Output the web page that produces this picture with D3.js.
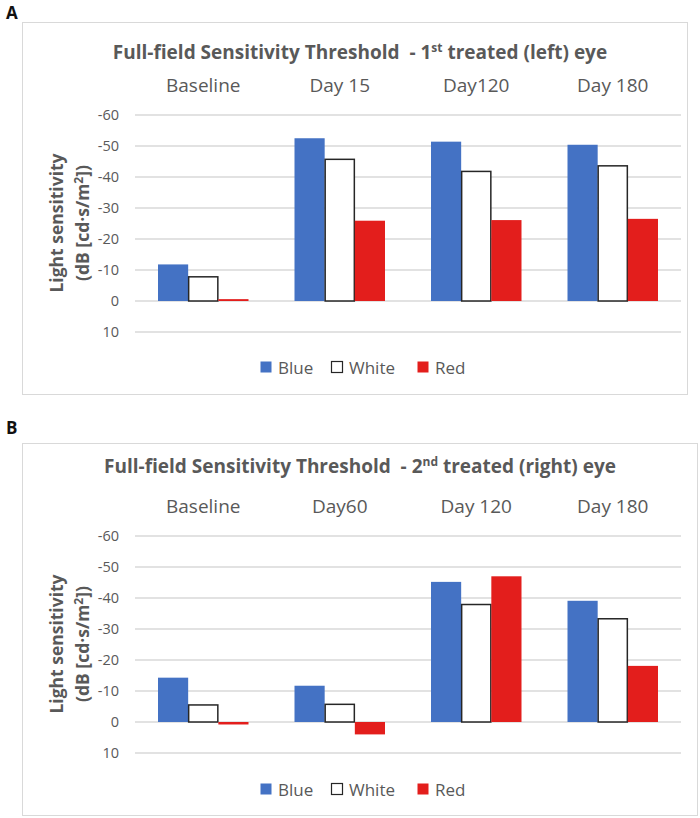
<!DOCTYPE html>
<html>
<head>
<meta charset="utf-8">
<script src="https://cdn.jsdelivr.net/npm/d3@7"></script>
<style>
  body { margin: 0; background: #fff; }
  svg { display: block; }
  text { font-family: "Open Sans", "Noto Sans", sans-serif; white-space: pre; }
</style>
</head>
<body>
<script>
// ---- data ----
const seriesNames = ["Blue", "White", "Red"];
const yTicks = [-60, -50, -40, -30, -20, -10, 0, 10];

const categoriesA = ["Baseline", "Day 15", "Day120", "Day 180"];
const blueA  = [-11.8, -52.5, -51.4, -50.4];
const whiteA = [-7.8, -45.7, -41.8, -43.6];
const redA   = [-0.6, -25.9, -26.1, -26.5];

const categoriesB = ["Baseline", "Day60", "Day 120", "Day 180"];
const blueB  = [-14.3, -11.7, -45.2, -39.1];
const whiteB = [-5.5, -5.7, -37.9, -33.3];
const redB   = [0.8, 4.0, -47.0, -18.1];

const colors = { Blue: "#4472C4", White: "#FFFFFF", Red: "#E31E1C" };
const textGray = "#595959";

const W = 700, H = 818;
const svg = d3.select("body").append("svg").attr("width", W).attr("height", H);

function panel(cfg) {
  const g = svg.append("g");
  // panel letter
  svg.append("text").attr("x", 6).attr("y", cfg.letterY)
    .attr("font-family", "Liberation Sans, Arial, sans-serif")
    .attr("font-weight", "bold").attr("font-size", 17).attr("fill", "#111")
    .text(cfg.letter);
  // box
  g.append("rect").attr("x", 22.5).attr("y", cfg.top + 0.5)
    .attr("width", cfg.right - 22).attr("height", 372)
    .attr("fill", "#fff").attr("stroke", "#D9D9D9").attr("stroke-width", 1);

  const x0 = d3.scaleBand().domain(cfg.categories).range([135, 681]).paddingInner(0.337).paddingOuter(0.337 / 2);
  const x1 = d3.scaleBand().domain(seriesNames).range([0, x0.bandwidth()]);
  const y = d3.scaleLinear().domain([10, -60]).range([cfg.top + 310, cfg.top + 93]);

  // gridlines
  g.append("g").selectAll("line").data(yTicks).join("line")
    .attr("x1", 135).attr("x2", 681)
    .attr("y1", d => y(d)).attr("y2", d => y(d))
    .attr("stroke", "#D9D9D9").attr("stroke-width", 1.3);

  // y axis labels
  const yAxis = d3.axisLeft(y).tickValues(yTicks).tickSize(0).tickPadding(0).tickFormat(d => d3.format("d")(d).replace("−", "-"));
  const ax = g.append("g").attr("transform", "translate(119,0)").call(yAxis);
  ax.select(".domain").remove();
  ax.selectAll("text").attr("font-size", 14.5).attr("fill", textGray)
    .attr("font-family", "Open Sans, sans-serif");

  // y axis title
  const yt = g.append("text").attr("transform", `translate(0,${cfg.top + 201}) rotate(-90)`)
    .attr("text-anchor", "middle").attr("font-weight", "bold").attr("font-size", 17.5).attr("fill", textGray);
  yt.append("tspan").attr("x", 0).attr("y", 63).text("Light sensitivity");
  const t2 = yt.append("tspan").attr("x", 0).attr("y", 89).text("(dB [cd·s/m");
  t2.append("tspan").attr("dy", -6).attr("font-size", 12).text("2");
  t2.append("tspan").attr("dy", 6).text("])");

  // title
  const title = g.append("text").attr("x", 360).attr("y", cfg.top + cfg.titleDy)
    .attr("text-anchor", "middle").attr("font-weight", "bold").attr("font-size", 19).attr("fill", textGray);
  title.append("tspan").text(cfg.titleA);
  title.append("tspan").attr("dy", -7).attr("font-size", 12).text(cfg.sup);
  title.append("tspan").attr("dy", 7).text(cfg.titleB);

  // category labels at top
  g.append("g").selectAll("text").data(cfg.categories).join("text")
    .attr("x", d => x0(d) + x0.bandwidth() / 2).attr("y", cfg.top + 70)
    .attr("text-anchor", "middle").attr("font-size", 19).attr("fill", textGray)
    .text(d => d);

  // bars
  const rows = cfg.categories.map((c, i) => ({ cat: c, vals: seriesNames.map((s, j) => ({ s, v: cfg.series[j][i] })) }));
  const grp = g.append("g").selectAll("g").data(rows).join("g")
    .attr("transform", d => `translate(${x0(d.cat)},0)`);
  grp.selectAll("rect").data(d => d.vals).join("rect")
    .attr("x", d => x1(d.s) + (d.s === "White" ? 0.5 : 0))
    .attr("width", d => x1.bandwidth() - (d.s === "White" ? 1 : 0))
    .attr("y", d => Math.min(y(d.v), y(0)))
    .attr("height", d => Math.abs(y(d.v) - y(0)))
    .attr("fill", d => colors[d.s])
    .attr("stroke", d => d.s === "White" ? "#262626" : "none")
    .attr("stroke-width", 1.5);

  // legend
  const lx = [260, 331, 417];
  const lg = g.append("g").selectAll("g").data(seriesNames).join("g")
    .attr("transform", (d, i) => `translate(${lx[i]},${cfg.top + cfg.legendDy})`);
  lg.append("rect").attr("x", 0.5).attr("y", -5.5).attr("width", 11).attr("height", 11)
    .attr("fill", d => colors[d]).attr("stroke", d => d === "White" ? "#262626" : "none").attr("stroke-width", 1.2);
  lg.append("text").attr("x", 18).attr("y", 6.5).attr("font-size", 17).attr("fill", textGray).text(d => d);
}

panel({ letter: "A", letterY: 19, top: 22, right: 687, titleDy: 37, legendDy: 345,
  titleA: "Full-field Sensitivity Threshold  - 1", sup: "st", titleB: " treated (left) eye",
  categories: categoriesA, series: [blueA, whiteA, redA] });
panel({ letter: "B", letterY: 434, top: 443, right: 697, titleDy: 30, legendDy: 346,
  titleA: "Full-field Sensitivity Threshold  - 2", sup: "nd", titleB: " treated (right) eye",
  categories: categoriesB, series: [blueB, whiteB, redB] });
</script>
</body>
</html>
